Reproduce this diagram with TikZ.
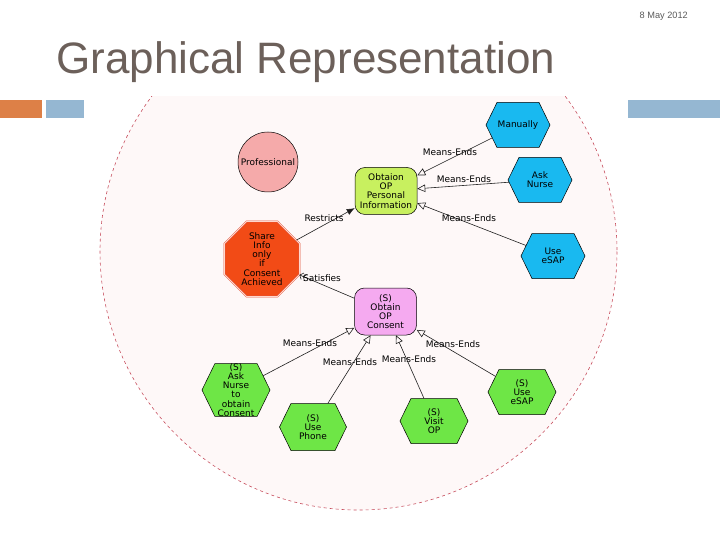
\documentclass[tikz,border=0pt]{standalone}
\usepackage{fontspec}
\setmainfont{DejaVu Sans}
\newfontfamily\arialfont{Liberation Sans}
\usetikzlibrary{shapes.geometric,shapes.symbols,arrows.meta}
\definecolor{titlec}{RGB}{108,96,90}
\definecolor{datec}{RGB}{90,90,90}
\definecolor{barorange}{RGB}{221,128,71}
\definecolor{barblue}{RGB}{149,183,210}
\definecolor{ringfill}{RGB}{254,248,248}
\definecolor{ringline}{RGB}{200,80,95}
\definecolor{cyanfill}{RGB}{25,185,240}
\definecolor{greenfill}{RGB}{110,230,70}
\definecolor{profill}{RGB}{245,170,170}
\definecolor{pifill}{RGB}{200,240,95}
\definecolor{consfill}{RGB}{245,170,240}
\definecolor{octfill}{RGB}{242,75,22}
\definecolor{octline}{RGB}{225,85,60}
\definecolor{octgap}{RGB}{255,215,205}
\definecolor{edgec}{RGB}{30,30,30}
\begin{document}
\begin{tikzpicture}[x=1pt,y=-1pt,
  nodefont/.style={font=\fontsize{9}{9.2}\selectfont, align=center, text=black},
  hexbox/.style={nodefont, signal, signal to=east and west, signal pointer angle=128,
     minimum width=64pt, minimum height=45pt, inner sep=0pt, draw=black, line width=0.5pt},
  bluehex/.style={hexbox, fill=cyanfill},
  greenhex/.style={hexbox, fill=greenfill},
  goalbox/.style={nodefont, rectangle, rounded corners=10pt, minimum width=62pt, minimum height=47pt,
     inner sep=0pt, draw=black, line width=0.5pt},
  lbl/.style={font=\fontsize{9}{9.5}\selectfont, text=black, inner sep=0.5pt},
  edge/.style={draw=edgec, line width=0.6pt},
  meansends/.style={edge, -{Triangle[open,length=8pt,width=7.5pt]}},
  restricts/.style={edge, -{Latex[length=8pt,width=6.5pt]}},
  satisfies/.style={edge, -{Straight Barb[length=3pt,width=7pt] Straight Barb[length=3pt,width=7pt]}}
]
\useasboundingbox (0,0) rectangle (720,540);

% header
\node[anchor=base east, font=\arialfont\fontsize{9.2}{10}\selectfont, text=datec, inner sep=0pt] (date) at (688,19) {8 May 2012};
\node[anchor=base west, font=\arialfont\fontsize{44}{46}\selectfont, text=titlec, inner sep=0pt] (title) at (56,74) {Graphical Representation};
\fill[barorange] (0,100) rectangle (42,118);
\fill[barblue] (46,100) rectangle (84,118);
\fill[barblue] (628,100) rectangle (720,118);

% boundary
\begin{scope}
  \clip (0,97) rectangle (720,540);
  \draw[fill=ringfill, draw=ringline, line width=0.6pt, dash pattern=on 3pt off 3pt] (358.5,251.5) circle (258.5);
\end{scope}

% nodes
\node[bluehex] (manually) at (518,125) {Manually};
\node[bluehex] (asknurse) at (540,180) {Ask\\Nurse};
\node[bluehex] (useesap) at (553,256) {Use\\eSAP};
\node[nodefont, circle, minimum size=60pt, inner sep=0pt, draw=black, line width=0.5pt, fill=profill] (prof) at (268,162) {Professional};
\node[goalbox, fill=pifill] (obtainpi) at (386,191) {Obtaion\\OP\\Personal\\Information};
\node[nodefont, regular polygon, regular polygon sides=8, minimum size=66pt, inner sep=0pt,
      fill=octfill, draw=octline, double=octgap, double distance=0.8pt, line width=0.5pt] (share) at (262,259) {Share\\Info\\only\\if\\Consent\\Achieved};
\node[goalbox, fill=consfill] (consent) at (385.5,311.5) {(S)\\Obtain\\OP\\Consent};
\node[greenhex, minimum width=68pt, minimum height=46pt] (asknc) at (236,390) {(S)\\Ask\\Nurse\\to\\obtain\\Consent};
\node[greenhex, minimum width=67pt, minimum height=47pt] (phone) at (313,427) {(S)\\Use\\Phone};
\node[greenhex, minimum width=68pt, minimum height=45pt] (visit) at (434,421) {(S)\\Visit\\OP};
\node[greenhex, minimum width=68pt, minimum height=45pt] (sesap) at (522,392) {(S)\\Use\\eSAP};

% connectors
\draw[meansends] (manually) -- (obtainpi);
\draw[meansends] (asknurse) -- (obtainpi);
\draw[meansends] (useesap) -- (obtainpi);
\draw[restricts] (share) -- (obtainpi);
\draw[satisfies] (consent) -- (share);
\draw[meansends] (asknc) -- (consent);
\draw[meansends] (phone) -- (consent);
\draw[meansends] (visit) -- (consent);
\draw[meansends] (sesap) -- (consent);

% labels
\node[lbl] (l1) at (450,152) {Means-Ends};
\node[lbl] (l2) at (464,179) {Means-Ends};
\node[lbl] (l3) at (469,218) {Means-Ends};
\node[lbl] (l4) at (324,218) {Restricts};
\node[lbl] (l5) at (322,278) {Satisfies};
\node[lbl] (l6) at (310,343) {Means-Ends};
\node[lbl] (l7) at (350,362) {Means-Ends};
\node[lbl] (l8) at (409,359) {Means-Ends};
\node[lbl] (l9) at (453,344) {Means-Ends};
\end{tikzpicture}
\end{document}
